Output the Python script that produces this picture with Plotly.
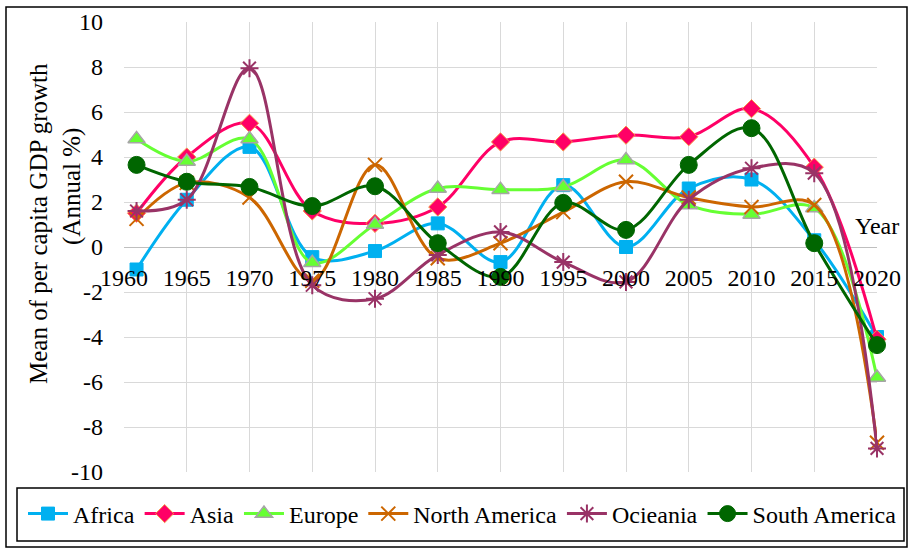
import plotly.graph_objects as go

years = [1961, 1965, 1970, 1975, 1980, 1985, 1990, 1995, 2000, 2005, 2010, 2015, 2020]

africa = [-1.0, 2.1, 4.45, -0.45, -0.18, 1.05, -0.67, 2.75, 0.0, 2.6, 3.0, 0.3, -4.0]
asia = [1.5, 4.0, 5.5, 1.6, 1.05, 1.78, 4.67, 4.67, 4.97, 4.9, 6.15, 3.55, -4.1]
europe = [4.8, 3.8, 4.8, -0.7, 1.0, 2.6, 2.55, 2.67, 3.87, 1.87, 1.45, 1.73, -5.8]
north_america = [1.25, 2.85, 2.2, -1.5, 3.65, -0.5, 0.17, 1.55, 2.9, 2.2, 1.78, 1.87, -8.7]
oceania = [1.6, 2.1, 7.95, -1.7, -2.3, -0.35, 0.67, -0.67, -1.55, 2.1, 3.5, 3.28, -8.95]
south_america = [3.65, 2.9, 2.67, 1.82, 2.7, 0.17, -1.33, 1.96, 0.76, 3.65, 5.28, 0.17, -4.36]

x_ticks = [1960, 1965, 1970, 1975, 1980, 1985, 1990, 1995, 2000, 2005, 2010, 2015, 2020]
y_ticks = [-10, -8, -6, -4, -2, 0, 2, 4, 6, 8, 10]

FONT = "Liberation Serif, Times New Roman, serif"

series = [
    ("Africa", africa, "#00B0F0", "square", 13, "#00B0F0", 1),
    ("Asia", asia, "#FF0066", "diamond", 14, "#F79646", 1),
    ("Europe", europe, "#66FF33", "triangle-up", 15, "#A6A6A6", 1.5),
    ("North America", north_america, "#CC6600", "x-thin-open", 14, "#CC6600", 2),
    ("Ocieania", oceania, "#993366", "asterisk-open", 15, "#993366", 2),
    ("South America", south_america, "#006600", "circle", 17, "#006600", 1),
]

fig = go.Figure()
for name, vals, color, sym, size, lcol, lw in series:
    fig.add_trace(go.Scatter(
        x=years, y=vals, name=name, mode="lines+markers", cliponaxis=False,
        line=dict(color=color, width=3, shape="spline", smoothing=1.0),
        marker=dict(symbol=sym, size=size, color=color,
                    line=dict(color=lcol, width=lw)),
    ))

# plot area: x 124..877 px, y 22..472 px; paper spans 124..907 px horizontally
PW = 783.0

def px(xp):
    return (xp - 124) / PW

def py(yp):
    return (472 - yp) / 450.0

fig.update_layout(
    width=910, height=548,
    margin=dict(l=124, r=3, t=22, b=76, autoexpand=False),
    paper_bgcolor="white", plot_bgcolor="white",
    font=dict(family=FONT, size=24, color="#000000"),
    showlegend=True,
    legend=dict(orientation="h", x=px(23), y=py(514),
                xanchor="left", yanchor="middle",
                font=dict(family=FONT, size=24),
                bgcolor="rgba(0,0,0,0)", borderwidth=0,
                itemwidth=40, tracegroupgap=0),
    xaxis=dict(domain=[0, 753 / PW],
               range=[1960, 2020], tickmode="array", tickvals=x_ticks,
               ticktext=[str(t) for t in x_ticks],
               showgrid=True, gridcolor="#D9D9D9", gridwidth=1,
               zeroline=False, showline=False, automargin=False,
               anchor="free", position=0.5, ticks="",
               ticklabelstandoff=14,
               tickfont=dict(family=FONT, size=24)),
    yaxis=dict(range=[-10, 10], tickmode="array", tickvals=y_ticks,
               ticktext=[str(t) for t in y_ticks],
               showgrid=True, gridcolor="#D9D9D9", gridwidth=1,
               zeroline=True, zerolinecolor="#BFBFBF", zerolinewidth=1,
               showline=False, ticks="", ticklabelstandoff=20, automargin=False,
               tickfont=dict(family=FONT, size=24)),
)

fig.add_annotation(text="Mean of per capita GDP growth", xref="paper", yref="paper",
                   x=px(38), y=py(224), textangle=-90, showarrow=False,
                   xanchor="center", yanchor="middle",
                   font=dict(family=FONT, size=25))
fig.add_annotation(text="(Annual %)", xref="paper", yref="paper",
                   x=px(72), y=py(187), textangle=-90, showarrow=False,
                   xanchor="center", yanchor="middle",
                   font=dict(family=FONT, size=25))
fig.add_annotation(text="Year", xref="x", yref="y", x=2020, y=0.95,
                   showarrow=False, xanchor="center", yanchor="middle",
                   font=dict(family=FONT, size=24))

# legend box and outer frame
fig.add_shape(type="rect", xref="paper", yref="paper",
              x0=px(17), x1=px(904), y0=py(541), y1=py(488),
              line=dict(color="#000000", width=1.5), fillcolor="rgba(0,0,0,0)")
fig.add_shape(type="rect", xref="paper", yref="paper",
              x0=px(6), x1=px(907), y0=py(547), y1=py(7),
              line=dict(color="#000000", width=1.5), fillcolor="rgba(0,0,0,0)")

fig.write_html("out.html", config={"displayModeBar": False},
               post_script="document.body.style.margin='0';")
